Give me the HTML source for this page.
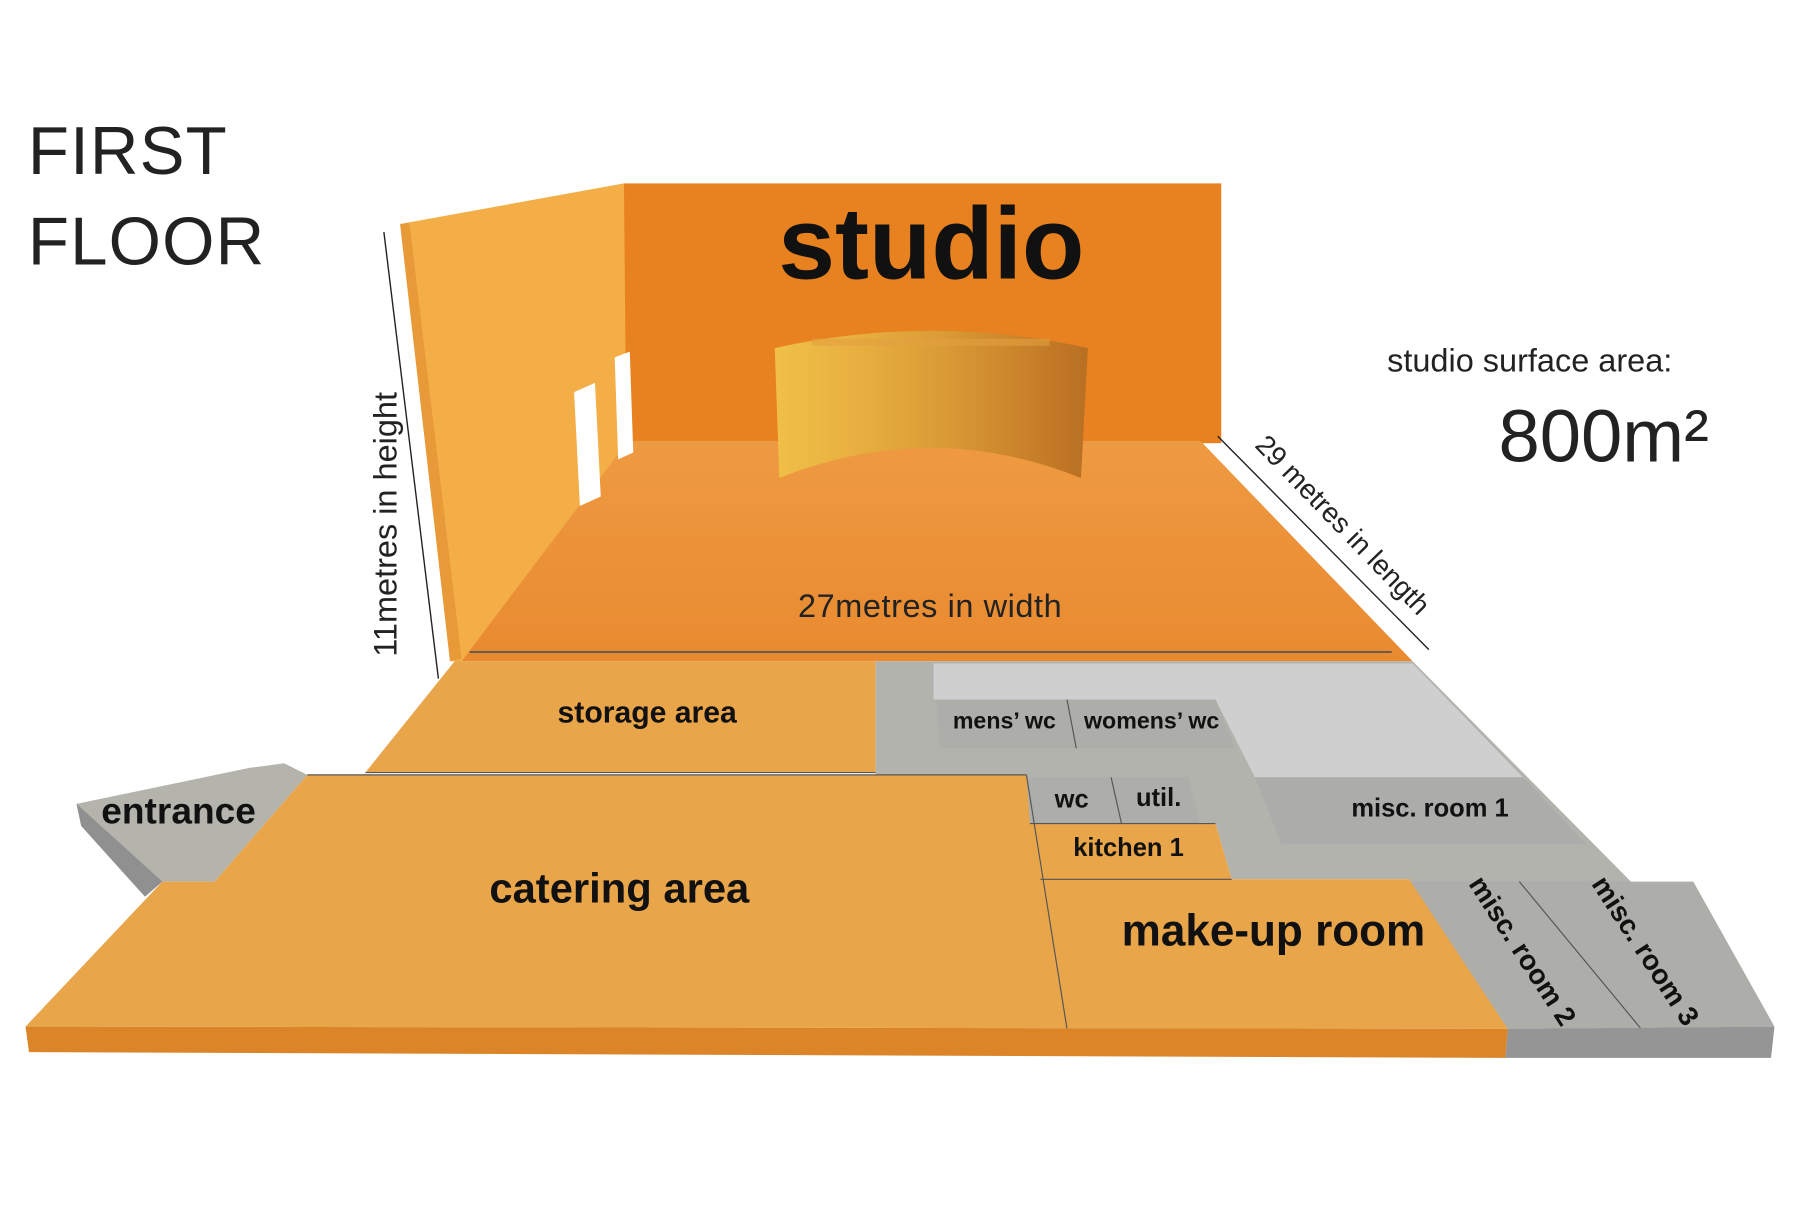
<!DOCTYPE html>
<html><head><meta charset="utf-8"><style>
html,body{margin:0;padding:0;background:#fff;}
svg{display:block;}
text{font-family:"Liberation Sans",sans-serif;}
.b{font-weight:bold;fill:#111;}
.l{fill:#222;}
</style></head><body>
<svg width="1800" height="1232" viewBox="0 0 1552 1062" xmlns="http://www.w3.org/2000/svg">
<defs>
<linearGradient id="cyl" x1="0" x2="1" y1="0" y2="0">
<stop offset="0" stop-color="#f0c048"/><stop offset="0.25" stop-color="#e8b040"/>
<stop offset="0.55" stop-color="#d99a35"/><stop offset="0.8" stop-color="#c9812a"/><stop offset="1" stop-color="#b86f22"/>
</linearGradient>
<linearGradient id="fl" x1="0" x2="0" y1="0" y2="1">
<stop offset="0" stop-color="#ee9a42"/><stop offset="1" stop-color="#e98a30"/>
</linearGradient>
</defs>

<text x="24" y="150" font-size="58" class="l" letter-spacing="1">FIRST</text>
<text x="24" y="228" font-size="58" class="l" letter-spacing="1">FLOOR</text>

<rect x="538" y="158" width="515" height="224" fill="#e8811f"/>
<polygon points="540,380 1035,380 1218,570 392,570" fill="url(#fl)"/>
<polygon points="345,193 538,158 540,382 398,570 388,570" fill="#f3ae48"/>
<polygon points="345,193 353,192 398,568 388,570" fill="#e99a38"/>
<polygon points="495,338 513,330 518,428 500,436" fill="#fff"/>
<polygon points="530,308 543,303 546,390 533,396" fill="#fff"/>
<path d="M668,300 Q803,270 938,300 L932,412 Q803,360 672,412 Z" fill="url(#cyl)"/>
<path d="M700,298 L905,298 L905,292 L700,292 Z" fill="#e2a040" opacity="0.6"/>
<text x="803" y="240" font-size="88" class="b" text-anchor="middle">studio</text>
<line x1="405" y1="562" x2="1200" y2="562" stroke="#555" stroke-width="1.5"/>
<text x="802" y="532" font-size="28" class="l" text-anchor="middle" letter-spacing="0.5">27metres in width</text>

<line x1="331" y1="200" x2="378" y2="585" stroke="#222" stroke-width="1.2"/>
<text transform="translate(342,452) rotate(-90)" font-size="28" class="l" text-anchor="middle">11metres in height</text>
<line x1="1050" y1="376" x2="1232" y2="560" stroke="#222" stroke-width="1.2"/>
<text transform="translate(1152,458) rotate(46)" font-size="24" class="l" text-anchor="middle">29 metres in length</text>
<text x="1196" y="320" font-size="28" class="l">studio surface area:</text>
<text x="1292" y="398" font-size="64" class="l">800m²</text>

<polygon points="392,570 755,570 755,666 315,666" fill="#e9a54a"/>
<line x1="315" y1="666" x2="755" y2="666" stroke="#555" stroke-width="1"/>
<polygon points="755,570 1218,570 1530,885 1300,887 1215,758 1062,758 1048,710 888,710 885,668 755,668" fill="#b3b3ad"/>
<polygon points="805,572 1218,572 1313,670 1082,670 1048,603 805,603" fill="#cfcfcf"/>
<polygon points="807,603 1048,603 1065,645 810,645" fill="#adadaa"/>
<line x1="920" y1="603" x2="928" y2="645" stroke="#555" stroke-width="1"/>
<polygon points="884,670 1025,670 1035,710 888,710" fill="#adadaa"/>
<line x1="958" y1="670" x2="967" y2="710" stroke="#555" stroke-width="1"/>
<polygon points="1082,670 1313,670 1368,728 1105,728" fill="#acacaa"/>
<polygon points="1215,760 1460,760 1530,885 1300,887" fill="#adadaa"/>
<line x1="1310" y1="760" x2="1415" y2="887" stroke="#555" stroke-width="1"/>

<polygon points="66,693 215,662 245,658 265,668 185,760 140,760 125,773 70,712" fill="#b4b4ad"/>
<polygon points="66,693 70,712 125,773 140,760" fill="#909090"/>

<polygon points="265,668 885,668 888,710 1048,710 1062,758 1215,758 1300,887 22,885 140,760 185,760" fill="#e9a54a"/>
<line x1="265" y1="668" x2="885" y2="668" stroke="#555" stroke-width="1"/>
<line x1="888" y1="710" x2="1048" y2="710" stroke="#555" stroke-width="1"/>
<line x1="897" y1="758" x2="1062" y2="758" stroke="#555" stroke-width="1"/>
<line x1="885" y1="668" x2="920" y2="887" stroke="#555" stroke-width="1"/>
<polygon points="22,885 1300,887 1298,912 25,907" fill="#db8428"/>
<polygon points="1300,887 1530,885 1527,912 1298,912" fill="#959595"/>

<text x="558" y="623" font-size="26" class="b" text-anchor="middle">storage area</text>
<text x="866" y="628" font-size="20" class="b" text-anchor="middle">mens’ wc</text>
<text x="993" y="628" font-size="20" class="b" text-anchor="middle">womens’ wc</text>
<text x="924" y="696" font-size="22" class="b" text-anchor="middle">wc</text>
<text x="999" y="695" font-size="22" class="b" text-anchor="middle">util.</text>
<text x="973" y="738" font-size="22" class="b" text-anchor="middle">kitchen 1</text>
<text x="1233" y="704" font-size="22" class="b" text-anchor="middle">misc. room 1</text>
<text x="154" y="710" font-size="32" class="b" text-anchor="middle">entrance</text>
<text x="534" y="778" font-size="36" class="b" text-anchor="middle">catering area</text>
<text x="1098" y="815" font-size="38" class="b" text-anchor="middle">make-up room</text>
<text transform="translate(1306,824) rotate(57)" font-size="24" class="b" text-anchor="middle">misc. room 2</text>
<text transform="translate(1412,824) rotate(57)" font-size="24" class="b" text-anchor="middle">misc. room 3</text>
</svg>
</body></html>
